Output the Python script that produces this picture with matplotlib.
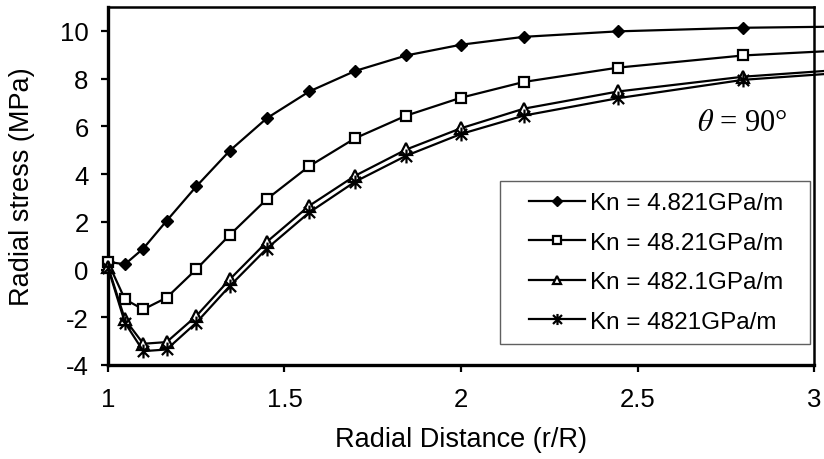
import matplotlib
matplotlib.use('Agg')
import matplotlib.pyplot as plt
from matplotlib.path import Path
from matplotlib.patches import Rectangle

# ---- data ----
r_over_R = [1.0, 1.048, 1.1, 1.166, 1.25, 1.345, 1.45, 1.57, 1.7, 1.845,
            2.0, 2.178, 2.445, 2.8, 3.25]
kn_labels = ["Kn = 4.821GPa/m", "Kn = 48.21GPa/m", "Kn = 482.1GPa/m", "Kn = 4821GPa/m"]
stress_kn_4821e_3 = [0.32, 0.22, 0.88, 2.04, 3.48, 4.98, 6.34, 7.46, 8.32, 8.97,
                     9.42, 9.75, 9.98, 10.13, 10.21]
stress_kn_48_21 = [0.3, -1.25, -1.67, -1.18, 0.01, 1.45, 2.95, 4.33, 5.50, 6.45,
                   7.20, 7.86, 8.46, 8.97, 9.31]
stress_kn_482_1 = [0.12, -2.09, -3.11, -3.04, -1.95, -0.41, 1.16, 2.67, 3.93, 5.03,
                   5.92, 6.74, 7.46, 8.08, 8.55]
stress_kn_4821 = [0.08, -2.23, -3.42, -3.35, -2.23, -0.69, 0.88, 2.39, 3.68, 4.77,
                  5.68, 6.45, 7.18, 7.95, 8.42]
x_ticks = [1, 1.5, 2, 2.5, 3]
x_tick_labels = ["1", "1.5", "2", "2.5", "3"]
y_ticks = [-4, -2, 0, 2, 4, 6, 8, 10]

plt.rcParams['font.family'] = ['Liberation Sans', 'DejaVu Sans']
plt.rcParams['mathtext.fontset'] = 'stix'
plt.rcParams['axes.unicode_minus'] = False

# asterisk marker (x plus vertical bar)
star = Path([(-0.5, -0.5), (0.5, 0.5), (-0.5, 0.5), (0.5, -0.5), (0, -0.62), (0, 0.62)],
            [Path.MOVETO, Path.LINETO, Path.MOVETO, Path.LINETO, Path.MOVETO, Path.LINETO])

fig = plt.figure(figsize=(8.24, 4.6), dpi=100)
ax = fig.add_axes([108 / 824, 94 / 460, 706 / 824, 358 / 460])

series = [stress_kn_4821e_3, stress_kn_48_21, stress_kn_482_1, stress_kn_4821]
styles = [dict(marker='D', ms=6.4, mfc='black', mec='black', mew=1.0),
          dict(marker='s', ms=7.2, mfc='white', mec='black', mew=1.6),
          dict(marker='^', ms=8.0, mfc='white', mec='black', mew=1.6),
          dict(marker=star, ms=10, mfc='none', mec='black', mew=1.6)]
for ys, lab, st in zip(series, kn_labels, styles):
    ax.plot(r_over_R, ys, color='black', lw=1.6, label=lab, clip_on=False, zorder=3, **st)

ax.set_xlim(1, 3)
ax.set_ylim(-4, 11)
ax.set_xticks(x_ticks)
ax.set_xticklabels(x_tick_labels)
ax.set_yticks(y_ticks)

for side, lw in [('left', 2.4), ('bottom', 2.4), ('top', 1.8), ('right', 1.8)]:
    ax.spines[side].set_linewidth(lw)
    ax.spines[side].set_color('black')
ax.tick_params(axis='both', direction='out', length=5, width=1.6, labelsize=18.5,
               top=False, right=False)
ax.tick_params(axis='y', pad=9)
ax.tick_params(axis='x', pad=11)

ax.set_xlabel("Radial Distance (r/R)", fontsize=19.5, labelpad=11)
ax.set_ylabel("Radial stress (MPa)", fontsize=19.5, labelpad=18)

ax.text(2.925, 6.15, r'$\theta$ = 90°', ha='right', va='center', fontsize=22,
        family=['Liberation Serif', 'DejaVu Serif'])

# legend box
x0, x1 = 0.555, 0.994
y0, y1 = 0.0587, 0.514
ax.add_patch(Rectangle((x0, y0), x1 - x0, y1 - y0, transform=ax.transAxes,
                       facecolor='white', edgecolor='#606060', lw=1.0, zorder=4.5))
leg = ax.legend(loc='center', bbox_to_anchor=((x0 + x1) / 2 + 0.002, (y0 + y1) / 2),
                fontsize=17.5, frameon=False,
                handlelength=2.3, handletextpad=0.2, labelspacing=0.72,
                borderpad=0.3, borderaxespad=0, markerscale=0.8)
leg.set_zorder(5)

fig.savefig('out.png', dpi=100)
